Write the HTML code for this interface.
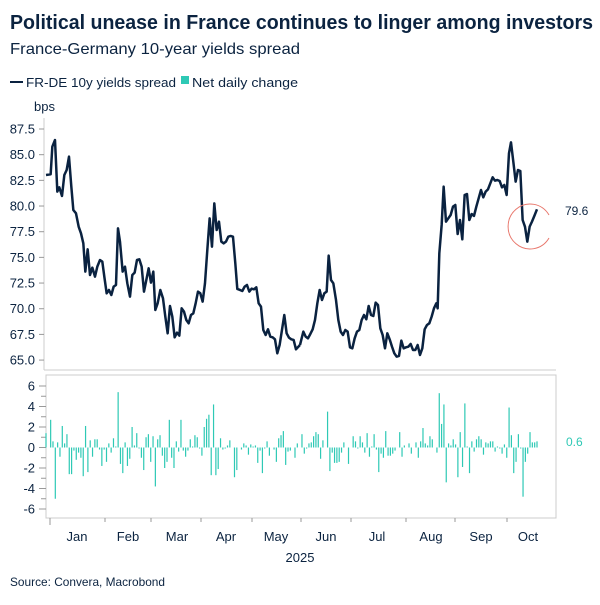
<!DOCTYPE html>
<html><head><meta charset="utf-8"><style>
body{margin:0;background:#fff}
text{font-family:"Liberation Sans",sans-serif;fill:#0b2340}
</style></head><body>
<svg id="s" width="600" height="600" viewBox="0 0 600 600" xmlns="http://www.w3.org/2000/svg">
<text x="10" y="29" font-size="20" font-weight="bold" textLength="583" lengthAdjust="spacingAndGlyphs">Political unease in France continues to linger among investors</text>
<text x="10" y="54" font-size="16" textLength="290" lengthAdjust="spacingAndGlyphs">France-Germany 10-year yields spread</text>
<line x1="10" y1="82" x2="23" y2="82" stroke="#0a2240" stroke-width="2"/>
<text x="26" y="87" font-size="13" textLength="150" lengthAdjust="spacingAndGlyphs">FR-DE 10y yields spread</text>
<rect x="181" y="76" width="8" height="8" fill="#2ec9b5"/>
<text x="192" y="87" font-size="13" textLength="106" lengthAdjust="spacingAndGlyphs">Net daily change</text>
<text x="34" y="111" font-size="13">bps</text>
<g stroke="#ccc" fill="none"><line x1="44" y1="118" x2="44" y2="370"/><line x1="44" y1="370" x2="556" y2="370"/>
<rect x="46" y="375" width="510" height="143"/></g>
<g id="yt" font-size="13" text-anchor="end"></g>
<g id="bars" fill="#2ec9b5"></g>
<polyline transform="translate(0,90) scale(0.3333)" fill="none" stroke="#0a2240" stroke-width="7.5" stroke-linejoin="round" points="138,255 152,253 157,170 165,150 172,305 178,292 186,318 193,255 200,240 207,200 214,290 220,360 228,370 236,410 243,430 250,460 256,545 263,478 270,555 277,533 285,560 292,530 300,510 307,515 313,560 320,610 327,600 334,615 341,590 348,585 354,415 360,455 368,545 375,530 382,580 390,620 397,555 404,548 411,510 418,508 425,530 432,605 439,570 446,535 453,578 460,545 466,660 473,640 481,600 489,625 496,680 503,730 510,648 517,680 524,742 531,728 538,737 545,655 552,665 559,690 566,700 573,675 580,670 587,640 594,605 601,610 608,635 615,580 622,480 629,385 636,470 643,340 650,420 657,395 664,455 671,460 678,455 685,440 692,438 699,440 706,520 712,597 720,600 727,603 734,590 741,585 748,605 755,596 762,598 769,592 776,640 783,650 790,720 797,735 804,718 811,740 818,742 825,748 832,790 839,765 846,720 853,675 860,730 867,743 874,748 881,750 888,778 900,765"/>
<polyline transform="translate(300,90) scale(0.3333)" fill="none" stroke="#0a2240" stroke-width="7.5" stroke-linejoin="round" points="0,765 10,725 17,740 24,745 31,732 38,718 45,690 52,640 59,600 66,630 73,610 80,605 86,497 93,570 100,580 108,630 115,690 122,725 129,735 136,720 143,725 150,772 157,775 164,745 171,725 178,720 185,690 192,675 199,688 206,648 213,675 220,678 227,638 234,645 241,715 248,735 255,775 262,730 269,748 276,770 283,790 290,800 297,798 304,752 311,775 318,772 325,770 332,762 339,780 346,780 353,765 360,795 367,775 374,718 381,705 388,700 395,680 402,655 409,640 413,655 418,490 425,405 431,290 438,395 445,385 452,375 459,350 466,345 473,432 480,390 487,448 494,315 501,312 508,390 515,372 522,378 529,350 536,325 543,300 550,322 557,305 564,298 571,280 578,262 585,272 592,270 599,273 606,292 613,285 620,315 627,190 633,157 640,215 647,275 654,240 661,243 668,390 675,410 682,455 689,410 696,395 703,378 711,358"/>
<path d="M549,215 A22,22.5 0 1 0 549,238" fill="none" stroke="#e8776c" stroke-width="1"/>
<text x="565" y="215" font-size="12">79.6</text>
<text x="566" y="446" font-size="12" style="fill:#2ec9b5">0.6</text>
<g id="xt" font-size="13" text-anchor="middle"></g>
<text x="300" y="562" font-size="13" text-anchor="middle">2025</text>
<text x="10" y="586" font-size="12" textLength="155" lengthAdjust="spacingAndGlyphs">Source: Convera, Macrobond</text>
</svg>
<script>
var NS="http://www.w3.org/2000/svg";
function el(p,t,a,txt){var e=document.createElementNS(NS,t);for(var k in a)e.setAttribute(k,a[k]);if(txt)e.textContent=txt;document.getElementById(p).appendChild(e);}
var yt=[87.5,85,82.5,80,77.5,75,72.5,70,67.5,65];
yt.forEach(function(v){var y=129+(87.5-v)*10.27;el("yt","line",{x1:39,x2:44,y1:y,y2:y,stroke:"#999"});el("yt","text",{x:35,y:y+4.5},v.toFixed(1));});
for(var v=-7;v<=7;v++){var y=447.5-v*10.25;if(y<376||y>517)continue;el("yt","line",{x1:(v%2?41:39),x2:46,y1:y,y2:y,stroke:"#999"});if(v%2==0)el("yt","text",{x:35,y:y+4.5},String(v));}
var d=[1.4,0,2.7,0.6,-5,0.5,-0.9,2.1,0.4,1.3,-2.6,-2.6,-0.3,-1.2,-0.5,-1,-2.8,2.1,-2.4,0.7,-0.9,0.8,0.8,-0.2,-1.8,-0.2,-1.4,0.4,-0.5,0.9,0.1,5.4,-1.6,-2.5,0.5,-1.8,-1.1,2,0.2,1.4,-0.1,-1,-2.2,1,1.3,-1.4,1.1,-3.8,0.8,1.2,-0.8,-2,-1.4,2.7,-1,-2,0.6,-0.4,2.7,-0.3,-0.9,-0.3,0.8,0.1,1.2,1,-0.1,-0.8,2,2.8,3.2,-2.7,4.2,-2.7,-2.1,0.9,-0.2,-0.1,0.2,0.7,0,-2.9,-2.2,0,-0.2,0.4,0.2,-0.7,0.3,0.1,0.2,-1.5,-0.3,-2.5,-0.1,0.6,-0.8,0,-0.2,-1.4,0.9,1.2,1.6,-1.7,-0.4,-0.3,0,-1,0.4,0,1.3,-0.6,-0.1,0.4,0.5,1.1,1.5,1.3,-1.1,0.7,0,3.5,-2.3,-0.5,-1.5,-1.5,-1.4,-0.5,0.5,0,-1.6,0,1.1,0.6,-0.1,1.1,0.5,-0.5,1.4,-0.9,0.1,1.3,-0.2,-2.4,-0.6,-1,1.6,-0.8,-0.8,-0.6,-0.3,0,1.5,-0.9,0.2,0,0.4,-0.6,0,0.5,-1,0.6,1.9,0.4,0.2,1.1,0.8,0,-0.5,5.3,2.3,4.2,-3.4,0.4,0.2,0.8,0.3,-2.9,1.5,-1.9,4.3,0.1,-2.5,0.6,-0.4,0.8,1.1,0.8,-0.7,0.5,0.4,0.6,0.6,-0.4,0.1,-0.1,-0.6,0.3,-1,3.9,1.2,-2.5,-1.4,1.3,-0.1,-4.8,-1.4,-0.6,1.5,0.5,0.5,0.6];
var n=d.length;d.forEach(function(v,i){var x=46+i*(537-46)/(n-1);var h=Math.abs(v)*10.25;el("bars","rect",{x:x-0.6,width:1.2,y:v>0?447.5-h:447.5,height:h});});
var tk=[50,105,151,201,252,301,351,406,455,507];tk.forEach(function(x){el("xt","line",{x1:x,x2:x,y1:518,y2:x==50?525:522,stroke:"#999"});});
var ml=[["Jan",77],["Feb",128],["Mar",177],["Apr",226],["May",276],["Jun",326],["Jul",377],["Aug",431],["Sep",481],["Oct",528]];
ml.forEach(function(m){el("xt","text",{x:m[1],y:541},m[0]);});
</script>
</body></html>
